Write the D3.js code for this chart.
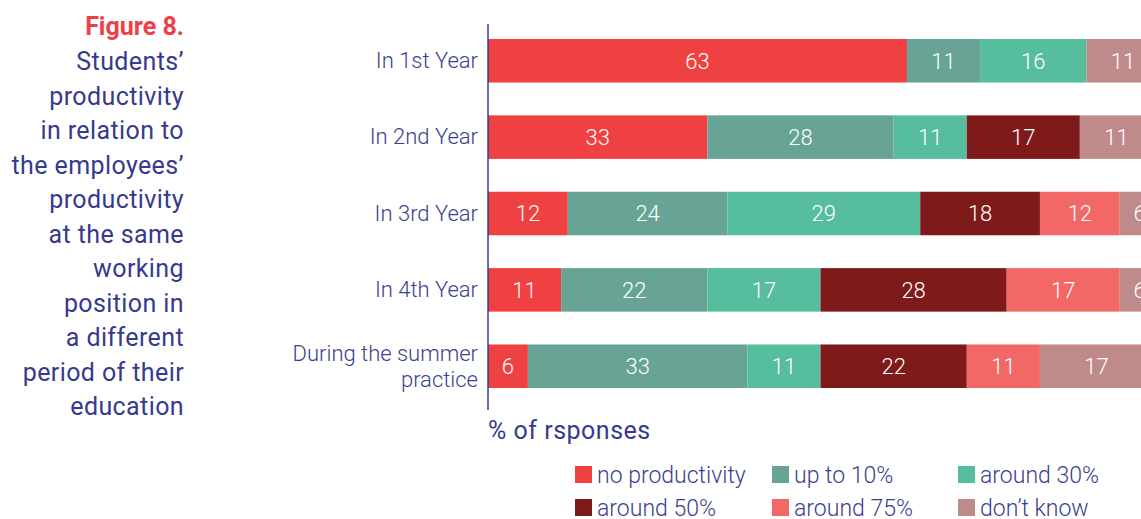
<!DOCTYPE html>
<html>
<head>
<meta charset="utf-8">
<script src="https://cdn.jsdelivr.net/npm/d3@7"></script>
<style>
  body { margin: 0; background: #fff; }
  text { font-family: Roboto, sans-serif; }
  .title { fill: #353a8e; font-size: 25px; font-weight: 400; letter-spacing: 0.4px; }
  .title.fig { fill: #ee4147; font-weight: 700; letter-spacing: 0; }
  .cat { fill: #3a3f8f; font-size: 22px; font-weight: 300; }
  .val { fill: #fff; font-size: 22px; font-weight: 300; }
  .axis-title { fill: #353a8e; font-size: 25px; font-weight: 400; letter-spacing: 0.5px; }
  .legend-label { fill: #3a3f8f; font-size: 23px; font-weight: 300; }
</style>
</head>
<body>
<svg id="chart" width="1141" height="519"></svg>
<script>
// categories (rows, top to bottom)
var categories = ['In 1st Year', 'In 2nd Year', 'In 3rd Year', 'In 4th Year', 'During the summer practice'];
// response classes (stack order, left to right)
var seriesNames = ['no productivity', 'up to 10%', 'around 30%', 'around 50%', 'around 75%', "don\u2019t know"];
var seriesColors = ['#ef4141', '#67a495', '#56bd9e', '#7f1a1a', '#f26867', '#bf8b8a'];

// % of responses per class, one array per row (0 = not given)
var noProductivity = [63, 33, 12, 11, 6];
var upTo10 = [11, 28, 24, 22, 33];
var around30 = [16, 11, 29, 17, 11];
var around50 = [0, 17, 18, 28, 22];
var around75 = [0, 0, 12, 17, 11];
var dontKnow = [11, 11, 6, 6, 17];

var titleLines = ['Students\u2019', 'productivity', 'in relation to', 'the employees\u2019',
  'productivity', 'at the same', 'working', 'position in', 'a different',
  'period of their', 'education'];

var svg = d3.select('#chart');

var axisX = 488;
var chartTop = 24;
var chartBottom = 410;

// build table for stacking
var table = categories.map(function(c, i) {
  return {
    cat: c,
    'no productivity': noProductivity[i],
    'up to 10%': upTo10[i],
    'around 30%': around30[i],
    'around 50%': around50[i],
    'around 75%': around75[i],
    "don\u2019t know": dontKnow[i]
  };
});

var stacked = d3.stack().keys(seriesNames)(table);

var x = d3.scaleLinear().domain([0, 100]).range([axisX, 1153]);
var y = d3.scaleBand().domain(categories).range([39, 388]).paddingInner(0.43).paddingOuter(0);
var color = d3.scaleOrdinal().domain(seriesNames).range(seriesColors);

// left side title
var titleG = svg.append('g').attr('class', 'title-block');
titleG.append('text')
  .attr('class', 'title fig')
  .attr('x', 184).attr('y', 35)
  .style('text-anchor', 'end')
  .text('Figure 8.');
titleG.selectAll('.title-line')
  .data(titleLines)
  .enter()
  .append('text')
  .attr('class', 'title title-line')
  .attr('x', 184)
  .attr('y', function(d, i) { return 70 + i * 34.5; })
  .style('text-anchor', 'end')
  .text(function(d) { return d; });

// bars
var layers = svg.append('g').attr('class', 'bars')
  .selectAll('g')
  .data(stacked)
  .enter()
  .append('g')
  .attr('fill', function(d) { return color(d.key); });

layers.selectAll('rect')
  .data(function(d) { return d.filter(function(s) { return s[1] > s[0]; }); })
  .enter()
  .append('rect')
  .attr('x', function(d) { return x(d[0]); })
  .attr('y', function(d) { return y(d.data.cat); })
  .attr('width', function(d) { return x(d[1]) - x(d[0]); })
  .attr('height', y.bandwidth());

layers.selectAll('text')
  .data(function(d) { return d.filter(function(s) { return s[1] > s[0]; }); })
  .enter()
  .append('text')
  .attr('class', 'val')
  .attr('x', function(d) { return (x(d[0]) + x(d[1])) / 2; })
  .attr('y', function(d) { return y(d.data.cat) + y.bandwidth() / 2; })
  .attr('dy', '0.36em')
  .style('text-anchor', 'middle')
  .text(function(d) { return d[1] - d[0]; });

// category axis
var yAxis = d3.axisLeft(y).tickSize(0).tickPadding(10);
var axisG = svg.append('g')
  .attr('transform', 'translate(' + axisX + ',0)')
  .call(yAxis);
axisG.select('.domain').remove();
axisG.append('line')
  .attr('x1', 0).attr('x2', 0)
  .attr('y1', chartTop).attr('y2', chartBottom)
  .attr('stroke', '#353a8e').attr('stroke-width', 1.5);
axisG.selectAll('.tick text')
  .attr('class', 'cat')
  .attr('fill', null)
  .style('font-family', null)
  .style('font-size', null)
  .each(function(d) {
    var t = d3.select(this);
    if (d.length > 15) {
      var words = ['During the summer', 'practice'];
      t.text(null);
      t.attr('dy', null);
      words.forEach(function(w, i) {
        t.append('tspan').attr('x', -10).attr('y', (i - 0.5) * 26).attr('dy', '0.36em').text(w);
      });
    }
  });

// x axis title
svg.append('text')
  .attr('class', 'axis-title')
  .attr('x', axisX)
  .attr('y', 439)
  .text('% of rsponses');

// legend
var legendCols = [575, 772, 958];
var legendRows = [475, 508];
var legend = svg.append('g').attr('class', 'legend')
  .selectAll('g')
  .data(seriesNames)
  .enter()
  .append('g')
  .attr('transform', function(d, i) {
    return 'translate(' + legendCols[i % 3] + ',' + legendRows[Math.floor(i / 3)] + ')';
  });
legend.append('rect')
  .attr('x', 0).attr('y', -9)
  .attr('width', 17).attr('height', 17)
  .attr('fill', function(d) { return color(d); });
legend.append('text')
  .attr('class', 'legend-label')
  .attr('x', 22)
  .attr('dy', '0.36em')
  .text(function(d) { return d; });
</script>
</body>
</html>
